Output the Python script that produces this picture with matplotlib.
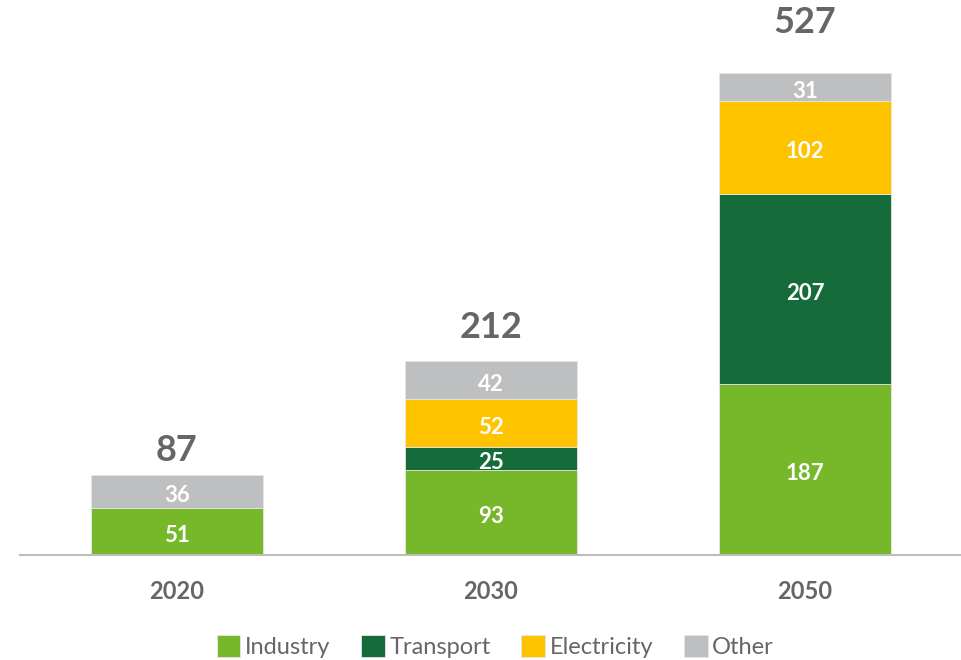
import matplotlib.pyplot as plt
import numpy as np

years = ["2020", "2030", "2050"]
series = ["Industry", "Transport", "Electricity", "Other"]
industry = [51, 93, 187]
transport = [0, 25, 207]
electricity = [0, 52, 102]
other = [36, 42, 31]
totals = [87, 212, 527]

colors = ["#76B82A", "#166B3A", "#FFC400", "#BEBFC1"]
grey = "#666666"
total_pad = [6, 12, 24]  # gap (pt) between bar top and total label

plt.rcParams["font.family"] = ["Lato", "DejaVu Sans"]

fig = plt.figure(figsize=(9.62, 6.6), dpi=100)
ax = fig.add_axes([20 / 962, 105 / 660, 942 / 962, 549 / 660])

x = np.arange(len(years))
bottom = np.zeros(len(years))
for name, vals, col in zip(series, [industry, transport, electricity, other], colors):
    vals = np.array(vals, dtype=float)
    ax.bar(x, vals, width=0.548, bottom=bottom, color=col, label=name,
           edgecolor="#e6e6e6", linewidth=0.6)
    for xi, b, v in zip(x, bottom, vals):
        if v > 0:
            ax.annotate(f"{int(v)}", (xi, b + v / 2), xytext=(0, -1.5),
                        textcoords="offset points", ha="center", va="center_baseline",
                        color="white", fontsize=16, fontweight="bold")
    bottom += vals

# ── totals above each stack ──────────────────────────────────────────────────
for xi, t, pad in zip(x, totals, total_pad):
    ax.annotate(f"{t}", (xi, t), xytext=(0, pad), textcoords="offset points",
                ha="center", va="bottom", color=grey, fontsize=26, fontweight="bold")

ax.set_xlim(-0.5, 2.5)
ax.set_ylim(0, 600)
ax.set_xticks(x)
ax.set_xticklabels(years, fontsize=17, fontweight="bold", color=grey)
ax.tick_params(axis="x", length=0, pad=18)
ax.set_yticks([])
for s in ["top", "right", "left"]:
    ax.spines[s].set_visible(False)
ax.spines["bottom"].set_color("#bdbdbd")
ax.spines["bottom"].set_linewidth(1.5)

leg = fig.legend(loc="center", bbox_to_anchor=(0.515, 0.02), ncol=4, frameon=False,
                 fontsize=17, handlelength=1.0, handleheight=1.0, handletextpad=0.2,
                 columnspacing=1.3)
for t in leg.get_texts():
    t.set_color(grey)

fig.savefig("out.png", dpi=100)
